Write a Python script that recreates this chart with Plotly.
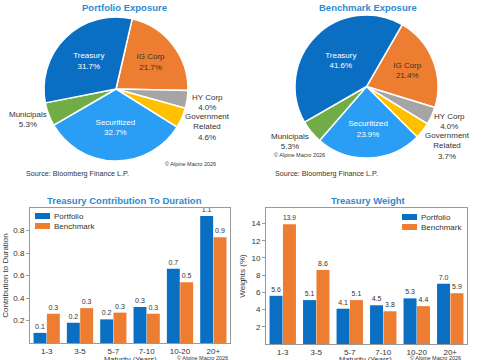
import plotly.graph_objects as go

W, H = 485, 360

# ---------------- data ----------------
pie_labels = ["IG Corp", "HY Corp", "Government<br>Related", "Securitized", "Municipals", "Treasury"]
portfolio_exposure = [21.7, 4.0, 4.6, 32.7, 5.3, 31.7]
benchmark_exposure = [21.4, 4.0, 3.7, 23.9, 5.3, 41.6]
pie_colors = ["#ED7D31", "#A5A5A5", "#FFC000", "#2A9DF4", "#70AD47", "#0A6FC2"]
pie_inside = [True, False, False, True, False, True]
pie_textcolor = ["#333333", "#333333", "#333333", "white", "#333333", "white"]

maturities = ["1-3", "3-5", "5-7", "7-10", "10-20", "20+"]
dur_portfolio = [0.09, 0.18, 0.21, 0.32, 0.66, 1.13]
dur_benchmark = [0.26, 0.31, 0.27, 0.26, 0.54, 0.94]
dur_tickvals = [0.2, 0.4, 0.6, 0.8, 1.0]
dur_ticktext = ["0.2", "0.4", "0.6", "0.8", "0.8"]

wt_portfolio = [5.6, 5.1, 4.1, 4.5, 5.3, 7.0]
wt_benchmark = [13.9, 8.6, 5.1, 3.8, 4.4, 5.9]
wt_tickvals = [2, 4, 6, 8, 10, 12, 14]

BLUE = "#0A6FC2"
ORANGE = "#ED7D31"
TITLE_BLUE = "#2E8BD0"
FONT = "Liberation Sans"
TXT = "#333333"


def px_x(x):
    return x / W


def px_y(y):
    return 1 - y / H


fig = go.Figure()

# ---------------- pies ----------------
# outside-label anchor points (pixels) for the small slices: HY Corp, Government Related, Municipals
pie_specs = [
    (portfolio_exposure, ([44, 188], [17, 161]), 13, [(207, 102), (207, 127), (28, 120)]),
    (benchmark_exposure, ([293, 440], [15, 158]), 30, [(449, 121), (447, 146), (290, 142)]),
]
for vals, dom, rot, outpos in pie_specs:
    texts = [f"{l}<br>{v:.1f}%" if ins else "" for l, v, ins in zip(pie_labels, vals, pie_inside)]
    fig.add_trace(go.Pie(
        labels=pie_labels,
        values=vals,
        sort=False,
        direction="clockwise",
        rotation=rot,
        marker=dict(colors=pie_colors, line=dict(color="white", width=1.5)),
        text=texts,
        textinfo="text",
        textposition="inside",
        textfont=dict(family=FONT, size=8, color=pie_textcolor),
        insidetextorientation="horizontal",
        showlegend=False,
        hoverinfo="label+value",
        domain=dict(x=[px_x(dom[0][0]), px_x(dom[0][1])],
                    y=[px_y(dom[1][1]), px_y(dom[1][0])]),
    ))
    outside_idx = [i for i, ins in enumerate(pie_inside) if not ins]
    for i, (x, y) in zip(outside_idx, outpos):
        fig.add_annotation(text=f"{pie_labels[i]}<br>{vals[i]:.1f}%", x=px_x(x), y=px_y(y),
                           xref="paper", yref="paper", showarrow=False,
                           xanchor="center", yanchor="middle", align="center",
                           font=dict(family=FONT, size=8, color=TXT))

# ---------------- bars ----------------
bar_specs = [
    ("x", "y", dur_portfolio, dur_benchmark),
    ("x2", "y2", wt_portfolio, wt_benchmark),
]
for xa, ya, pv, bv in bar_specs:
    for name, vals, col in [("Portfolio", pv, BLUE), ("Benchmark", bv, ORANGE)]:
        fig.add_trace(go.Bar(x=maturities, y=vals, name=name, marker_color=col,
                             marker_line_width=0,
                             text=[f"{v:.1f}" for v in vals], textposition="outside",
                             textfont=dict(family=FONT, size=7, color=TXT), cliponaxis=False,
                             xaxis=xa, yaxis=ya, showlegend=False))

axis_common = dict(showline=True, linecolor="#9a9a9a", linewidth=1, mirror=True,
                   showgrid=False, zeroline=False, tickfont=dict(family=FONT, size=8, color=TXT))

yax_common = dict(ticks="outside", ticklen=3, tickcolor="#9a9a9a", **axis_common)

fig.update_layout(
    width=W, height=H,
    margin=dict(l=0, r=0, t=0, b=0),
    paper_bgcolor="white", plot_bgcolor="white",
    font=dict(family=FONT, color=TXT),
    barmode="group", bargap=0.2, bargroupgap=0.03,
    xaxis=dict(domain=[px_x(30), px_x(230)], anchor="y", ticks="", **axis_common),
    yaxis=dict(domain=[px_y(343), px_y(208)], anchor="x", range=[0, 1.2],
               tickvals=dur_tickvals, ticktext=dur_ticktext, **yax_common,
               title=dict(text="Contribution to Duration", font=dict(size=8), standoff=3)),
    xaxis2=dict(domain=[px_x(266), px_x(467)], anchor="y2", ticks="", **axis_common),
    yaxis2=dict(domain=[px_y(344), px_y(208)], anchor="x2", range=[0, 15.8],
                tickvals=wt_tickvals, **yax_common,
                title=dict(text="Weights (%)", font=dict(size=8), standoff=4)),
)

# manual legends (small wide swatches like the reference)
legend_specs = [(35, 216, 226), (402, 217, 227)]
for lx, y1, y2 in legend_specs:
    for name, col, yy in [("Portfolio", BLUE, y1), ("Benchmark", ORANGE, y2)]:
        fig.add_shape(type="rect", xref="paper", yref="paper",
                      x0=px_x(lx), x1=px_x(lx + 15), y0=px_y(yy + 3), y1=px_y(yy - 3),
                      fillcolor=col, line_width=0)
        fig.add_annotation(text=name, x=px_x(lx + 17), y=px_y(yy), xref="paper", yref="paper",
                           showarrow=False, xanchor="left", yanchor="middle",
                           font=dict(family=FONT, size=8, color=TXT))

titles = [("Portfolio Exposure", 125, 7), ("Benchmark Exposure", 368, 7),
          ("Treasury Contribution To Duration", 125, 200), ("Treasury Weight", 368, 200)]
for t, x, y in titles:
    fig.add_annotation(text=f"<b>{t}</b>", x=px_x(x), y=px_y(y), xref="paper", yref="paper",
                       showarrow=False, xanchor="center", yanchor="middle",
                       font=dict(family=FONT, size=9.5, color=TITLE_BLUE))

notes = [("© Alpine Macro 2026", 190, 164, 5.5), ("© Alpine Macro 2026", 299, 155, 5.5),
         ("© Alpine Macro 2026", 202, 358, 5.5), ("© Alpine Macro 2026", 435, 358, 5.5),
         ("Source: Bloomberg Finance L.P.", 77, 173, 7.2),
         ("Source: Bloomberg Finance L.P.", 326, 173, 7.2),
         ("Maturity (Years)", 130, 359, 7.5), ("Maturity (Years)", 365, 359, 7.5)]
for t, x, y, s in notes:
    fig.add_annotation(text=t, x=px_x(x), y=px_y(y), xref="paper", yref="paper",
                       showarrow=False, xanchor="center", yanchor="middle",
                       font=dict(family=FONT, size=s, color=TXT))

fig.write_html("out.html", config={"displayModeBar": False},
               post_script="document.body.style.margin='0px';")
